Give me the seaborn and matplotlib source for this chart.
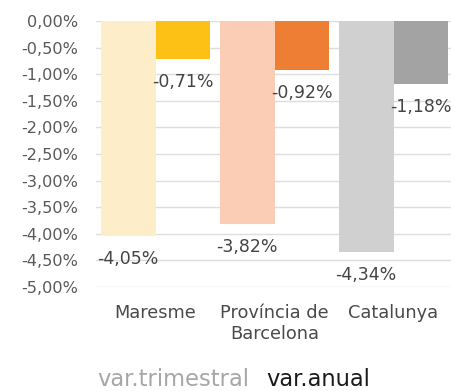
import matplotlib
matplotlib.use("Agg")
import matplotlib.pyplot as plt
import seaborn as sns
import pandas as pd

categories = ["Maresme", "Província de\nBarcelona", "Catalunya"]
series_names = ["var.trimestral", "var.anual"]
var_trimestral = [-4.05, -3.82, -4.34]
var_anual = [-0.71, -0.92, -1.18]
y_ticks = [0, -0.5, -1, -1.5, -2, -2.5, -3, -3.5, -4, -4.5, -5]

light_colors = ["#FDEDC8", "#FBCDB5", "#D0D0D0"]
dark_colors = ["#FDC115", "#EE7E33", "#A2A3A2"]

df = pd.DataFrame({
    "cat": categories * 2,
    "serie": [series_names[0]] * 3 + [series_names[1]] * 3,
    "val": var_trimestral + var_anual,
})

sns.set_theme(style="white")
plt.rcParams["font.family"] = ["DejaVu Sans"]

W, H = 451, 391
fig = plt.figure(figsize=(W / 100, H / 100), dpi=100)
ax = fig.add_axes([96 / W, 1 - 287 / H, 357 / W, (287 - 21) / H])

sns.barplot(data=df, x="cat", y="val", hue="serie", order=categories,
            hue_order=series_names, width=0.92, ax=ax, legend=False,
            errorbar=None, saturation=1)

# recolour bars per category: light for quarterly, dark for annual
bars = list(ax.patches)
for i, p in enumerate(bars):
    cat_idx = i % 3
    p.set_color(light_colors[cat_idx] if i < 3 else dark_colors[cat_idx])
    p.set_edgecolor("none")

def fmt(v):
    return f"{v:.2f}".replace(".", ",") + "%"

for p in bars:
    v = p.get_height()
    xc = p.get_x() + p.get_width() / 2
    ax.annotate(fmt(v), (xc, v), xytext=(0, -16.5), textcoords="offset points",
                ha="center", va="center", fontsize=12.5, color="#444444")

ax.set_ylim(-5, 0)
ax.set_xlim(-0.5, 2.5)
ax.set_yticks(y_ticks)
ax.set_yticklabels([fmt(t) for t in y_ticks], fontsize=11.6, color="#595959")
ax.tick_params(axis="y", length=0, pad=13)
ax.tick_params(axis="x", length=0, pad=12, labelsize=12.8, labelcolor="#4A4A4A")
for lbl in ax.get_xticklabels():
    lbl.set_linespacing(1.25)
ax.set_xlabel("")
ax.set_ylabel("")
ax.grid(axis="y", color="#DDDDDD", linewidth=1)
ax.set_axisbelow(True)
for s in ax.spines.values():
    s.set_visible(False)

# series names shown as plain text below the chart
fig.text(97 / W, 1 - 390.5 / H, series_names[0], fontsize=16.3, color="#A6A6A6",
         va="bottom", ha="left")
fig.text(266 / W, 1 - 390.5 / H, series_names[1], fontsize=16.3, color="#1A1A1A",
         va="bottom", ha="left")

fig.savefig("out.png", dpi=100)
